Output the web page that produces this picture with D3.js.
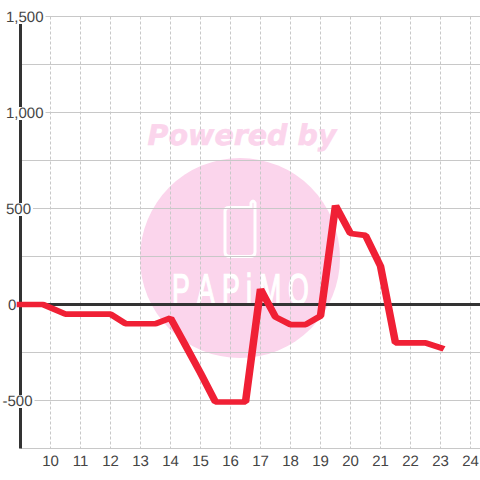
<!DOCTYPE html>
<html>
<head>
<meta charset="utf-8">
<script src="https://cdn.jsdelivr.net/npm/d3@7"></script>
<style>
  html, body { margin: 0; padding: 0; background: #fff; }
  svg { display: block; }
  text { font-family: "Liberation Sans", sans-serif; text-rendering: geometricPrecision; }
</style>
</head>
<body>
<div id="chart"></div>
<script>
// readings from 9:00 to 23:00
const hours = [9, 9.75, 10.5, 11, 11.5, 12, 12.5, 13, 13.5, 14, 14.5, 15, 15.5, 16, 16.5, 17, 17.5, 18, 18.5, 19, 19.5, 20, 20.5, 21, 21.5, 22, 22.5, 23];
const values = [0, 0, -50, -50, -50, -50, -100, -100, -100, -70, -213, -357, -508, -508, -508, 80, -65, -105, -105, -60, 515, 370, 360, 200, -200, -200, -200, -225];
const xTicks = [10, 11, 12, 13, 14, 15, 16, 17, 18, 19, 20, 21, 22, 23, 24];
const yLabels = [1500, 1000, 500, 0, -500];
const yGrid = [1500, 1250, 1000, 750, 500, 250, -250, -500, -750];

const width = 480, height = 480;

const svg = d3.select("#chart").append("svg")
    .attr("width", width)
    .attr("height", height);

const x = d3.scaleLinear().domain([9, 24]).range([20.5, 470.5]);
const y = d3.scaleLinear().domain([1500, -750]).range([16.5, 448.5]);

// Watermark
const mark = svg.append("g");
mark.append("text")
    .attr("x", 242).attr("y", 145)
    .attr("text-anchor", "middle")
    .style("font-family", "'DejaVu Sans'")
    .style("font-weight", "bold")
    .style("font-style", "italic")
    .style("font-size", "28.5px")
    .attr("fill", "#fbd5ec")
    .attr("stroke", "#fbd5ec")
    .attr("stroke-width", 0.6)
    .text("Powered by");
mark.append("circle")
    .attr("cx", 240).attr("cy", 258).attr("r", 100)
    .attr("fill", "#fbd5ec");
mark.append("path")
    .attr("d", "M229 207.5 H251 V203 Q253 199 255 203 V252 Q255 256.5 250 256.5 H230 Q225 256.5 225 252 V211 Q225 207.5 229 207.5 Z")
    .attr("fill", "none")
    .attr("stroke", "#fff")
    .attr("stroke-width", 3);

// logo lettering, narrowed sideways
const logoScale = 0.62;
const logoX = [172, 197, 222, 246, 259, 288];
mark.append("text")
    .attr("transform", `scale(${logoScale},1)`)
    .attr("x", logoX.map(v => v / logoScale).join(" "))
    .attr("y", 304)
    .style("font-size", "43px")
    .attr("fill", "#fff")
    .attr("stroke", "#fff")
    .attr("stroke-width", 1.4)
    .text("PAPiMO");

// Grid
svg.append("g")
    .selectAll("line")
    .data(yGrid)
    .enter().append("line")
    .attr("x1", x(9)).attr("x2", width)
    .attr("y1", d => y(d)).attr("y2", d => y(d))
    .attr("stroke", "#c8c8c8");

svg.append("g")
    .selectAll("line")
    .data(xTicks)
    .enter().append("line")
    .attr("x1", d => x(d)).attr("x2", d => x(d))
    .attr("y1", y(1500)).attr("y2", y(-750))
    .attr("stroke", "#c8c8c8")
    .attr("stroke-dasharray", "3,2");

// Axis lines
svg.append("line")
    .attr("x1", x(9)).attr("x2", width)
    .attr("y1", y(0)).attr("y2", y(0))
    .attr("stroke", "#333").attr("stroke-width", 3);
svg.append("line")
    .attr("x1", x(9)).attr("x2", x(9))
    .attr("y1", y(1500)).attr("y2", y(-750))
    .attr("stroke", "#333").attr("stroke-width", 3);

// Y labels sit on a white box that cuts the lines behind them
const yLabel = svg.append("g")
    .selectAll("g")
    .data(yLabels)
    .enter().append("g");
const yText = yLabel.append("text")
    .attr("x", d => d < 0 ? 2.5 : d === 0 ? 8 : 6)
    .attr("y", d => y(d) + 5)
    .style("font-size", "15px")
    .attr("fill", "#444")
    .text(d => d3.format(",")(d).replace("\u2212", "-"));
yText.each(function(d) {
    const b = this.getBBox();
    d3.select(this.parentNode).insert("rect", "text")
        .attr("x", 0)
        .attr("y", y(d) - 5.5)
        .attr("width", b.x + b.width + 2)
        .attr("height", 13)
        .attr("fill", "#fff");
});

// X labels
svg.append("g")
    .selectAll("text")
    .data(xTicks)
    .enter().append("text")
    .attr("x", d => x(d))
    .attr("y", 466)
    .attr("text-anchor", "middle")
    .style("font-size", "15px")
    .attr("fill", "#444")
    .text(d => d);

// Line: the stroke is wider sideways than up and down, so the path is stretched
const stretch = 1.35;
const line = d3.line()
    .x((d, i) => x(hours[i]) / stretch)
    .y(d => y(d));

svg.append("path")
    .datum(values)
    .attr("transform", `scale(${stretch},1)`)
    .attr("d", line)
    .attr("fill", "none")
    .attr("stroke", "#f02035")
    .attr("stroke-width", 5.6)
    .attr("stroke-linecap", "square")
    .attr("stroke-linejoin", "bevel");
</script>
</body>
</html>
